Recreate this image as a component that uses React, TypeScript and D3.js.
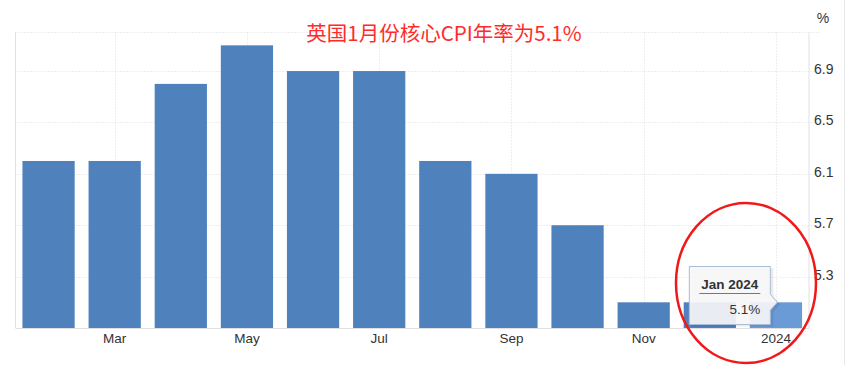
import React from "react";
import * as d3 from "d3";

const months = ["Feb", "Mar", "Apr", "May", "Jun", "Jul", "Aug", "Sep", "Oct", "Nov", "Dec", "Jan"];
const values = [6.2, 6.2, 6.8, 7.1, 6.9, 6.9, 6.2, 6.1, 5.7, 5.1, 5.1, 5.1];
const xLabels = ["", "Mar", "", "May", "", "Jul", "", "Sep", "", "Nov", "", "2024"];
const yTicks = [5.3, 5.7, 6.1, 6.5, 6.9];
const title = "英国1月份核心CPI年率为5.1%";
const tooltipTitle = "Jan 2024";
const tooltipValue = "5.1%";

const W = 852;
const H = 365;
const left = 15.5;
const right = 809;
const top = 32.5;
const bottom = 328;

export default function App() {
  const x = d3.scaleBand<string>().domain(months).range([left, right]).paddingInner(0.21).paddingOuter(0.105);
  const y = d3.scaleLinear().domain([4.9, 7.2]).range([bottom, top]);
  const font = "'Liberation Sans', Arial, sans-serif";
  const last = months.length - 1;
  const lastX = x(months[last])!;
  const barTopLast = y(values[last]);
  // tooltip geometry
  const tipR = lastX + 20.5;
  const tipL = tipR - 81;
  const tipT = 266.5;
  const tipB = 324.5;
  const arrowY = barTopLast;
  return (
    <div style={{ position: "absolute", left: 0, top: 0 }}>
      <svg width={W} height={H} style={{ display: "block", fontFamily: font }}>
        <rect x={0} y={0} width={W} height={H} fill="#fff" />
        <line x1={844.5} x2={844.5} y1={0} y2={H} stroke="#e6e6e6" />
        {/* horizontal grid */}
        {yTicks.map((t) => (
          <line key={t} x1={left} x2={820} y1={Math.round(y(t)) + 0.5} y2={Math.round(y(t)) + 0.5}
            stroke="#dcdcdc" strokeDasharray="1,2" />
        ))}
        <line x1={left} x2={820} y1={top} y2={top} stroke="#dcdcdc" strokeDasharray="1,2" />
        {/* vertical grid */}
        {months.map((m, i) =>
          xLabels[i] ? (
            <line key={m + i} x1={Math.round(x(m)! + x.bandwidth() / 2) + 0.5} x2={Math.round(x(m)! + x.bandwidth() / 2) + 0.5}
              y1={top} y2={bottom} stroke="#dcdcdc" strokeDasharray="1,2" />
          ) : null
        )}
        {/* bars */}
        {months.map((m, i) => (
          <rect key={m + i} x={x(m)} y={y(values[i])} width={x.bandwidth()} height={bottom - y(values[i])}
            fill={i === last ? "#6a9bd6" : "#4f81bd"} />
        ))}
        {/* axes */}
        <line x1={left} x2={left} y1={top} y2={bottom} stroke="#e0e0e0" />
        <line x1={right} x2={right} y1={top} y2={bottom} stroke="#e0e0e0" />
        <line x1={left} x2={right} y1={bottom + 0.5} y2={bottom + 0.5} stroke="#e0e0e0" />
        {/* y tick labels */}
        {yTicks.map((t) => (
          <text key={t} x={814} y={y(t) + 3} fontSize={14} fill="#333">{d3.format(".1f")(t)}</text>
        ))}
        <text x={823} y={23} fontSize={14} fill="#333" textAnchor="middle">%</text>
        {/* x labels */}
        {months.map((m, i) =>
          xLabels[i] ? (
            <text key={m + i} x={x(m)! + x.bandwidth() / 2} y={343} fontSize={13.5} fill="#333" textAnchor="middle">{xLabels[i]}</text>
          ) : null
        )}
        {/* title */}
        <text x={444} y={41} fontSize={20.5} fill="#ff2b2b" textAnchor="middle"
          fontFamily="'Noto Sans CJK SC', sans-serif">{title}</text>
        {/* tooltip */}
        <g>
          <path d={`M${tipL + 3},${tipT + 2} H${tipR + 3} V${arrowY - 6} l7,8 l-7,8 V${tipB + 2} H${tipL + 3} Z`}
            fill="rgba(0,0,0,0.08)" />
          <path d={`M${tipL},${tipT} H${tipR} V${arrowY - 8} l7,8 l-7,8 V${tipB} H${tipL} Z`}
            fill="rgba(247,247,249,0.92)" stroke="#a9bdd6" strokeWidth={1} />
          <text x={(tipL + tipR) / 2} y={288.5} fontSize={13.5} fontWeight="bold" fill="#333" textAnchor="middle">{tooltipTitle}</text>
          <line x1={tipL + 10} x2={tipR - 10} y1={293.5} y2={293.5} stroke="#777" />
          <text x={tipR - 10} y={314} fontSize={13.5} fill="#333" textAnchor="end">{tooltipValue}</text>
        </g>
        {/* red annotation ellipse */}
        <ellipse cx={746} cy={283} rx={70} ry={80} fill="none" stroke="#f01818" strokeWidth={2.5} />
      </svg>
    </div>
  );
}
